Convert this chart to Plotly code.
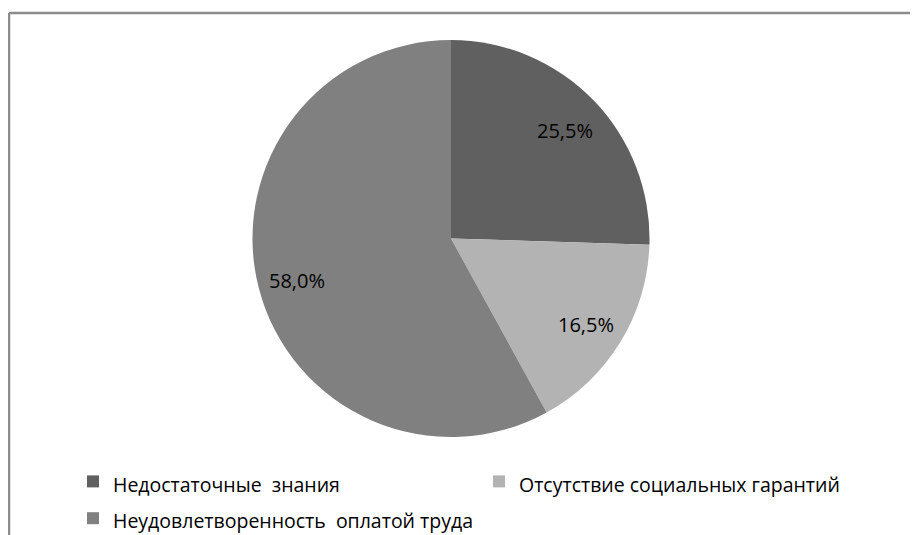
import math
import plotly.graph_objects as go

categories = ["Недостаточные  знания", "Отсутствие социальных гарантий", "Неудовлетворенность  оплатой труда"]
values = [25.5, 16.5, 58.0]
value_labels = ["25,5%", "16,5%", "58,0%"]
colors = ["#606060", "#b3b3b3", "#808080"]

W, H = 918, 535
# pie geometry (pixels in figure coordinates)
CX, CY, R = 443.0, 230.5, 198.5
LABEL_R = 0.80

legend_labels = ['<span style="font-size:19.5px">%s</span>' % c for c in categories]

fig = go.Figure()
fig.add_trace(go.Pie(
    labels=legend_labels,
    values=values,
    textinfo="none",
    marker=dict(colors=colors, line=dict(width=0)),
    sort=False,
    direction="clockwise",
    rotation=0,
    domain=dict(x=[(CX - R) / W, (CX + R) / W], y=[1 - (CY + R) / H, 1 - (CY - R) / H]),
    showlegend=True,
    hoverinfo="skip",
))

# percentage labels placed at the middle angle of each slice
annotations = []
total = sum(values)
cum = 0.0
for v, t in zip(values, value_labels):
    mid = (cum + v / 2) / total * 2 * math.pi
    cum += v
    px = CX + LABEL_R * R * math.sin(mid)
    py = CY - LABEL_R * R * math.cos(mid)
    annotations.append(dict(
        x=px / W, y=1 - py / H, xref="paper", yref="paper",
        text=t, showarrow=False, xanchor="center", yanchor="middle",
        yshift=-3,
        font=dict(family="Open Sans", size=20, color="#000000"),
    ))

fig.update_layout(
    width=W, height=H,
    margin=dict(l=0, r=0, t=0, b=0, autoexpand=False),
    paper_bgcolor="white",
    plot_bgcolor="white",
    font=dict(family="Open Sans", size=19.5, color="#000000"),
    legend=dict(
        orientation="h",
        x=65 / W, xanchor="left",
        y=1 - 450 / H, yanchor="top",
        entrywidth=361, entrywidthmode="pixels",
        font=dict(family="Open Sans", size=26, color="#000000"),
        traceorder="normal",
    ),
    annotations=annotations,
    shapes=[
        dict(type="line", xref="paper", yref="paper", x0=1 / W, x1=1.0, y0=1 - 5 / H, y1=1 - 5 / H,
             line=dict(color="#8c8c8c", width=2.5)),
        dict(type="line", xref="paper", yref="paper", x0=1 / W, x1=1 / W, y0=0, y1=1 - 5 / H,
             line=dict(color="#8c8c8c", width=2.5)),
    ],
)

fig.write_html("out.html")
